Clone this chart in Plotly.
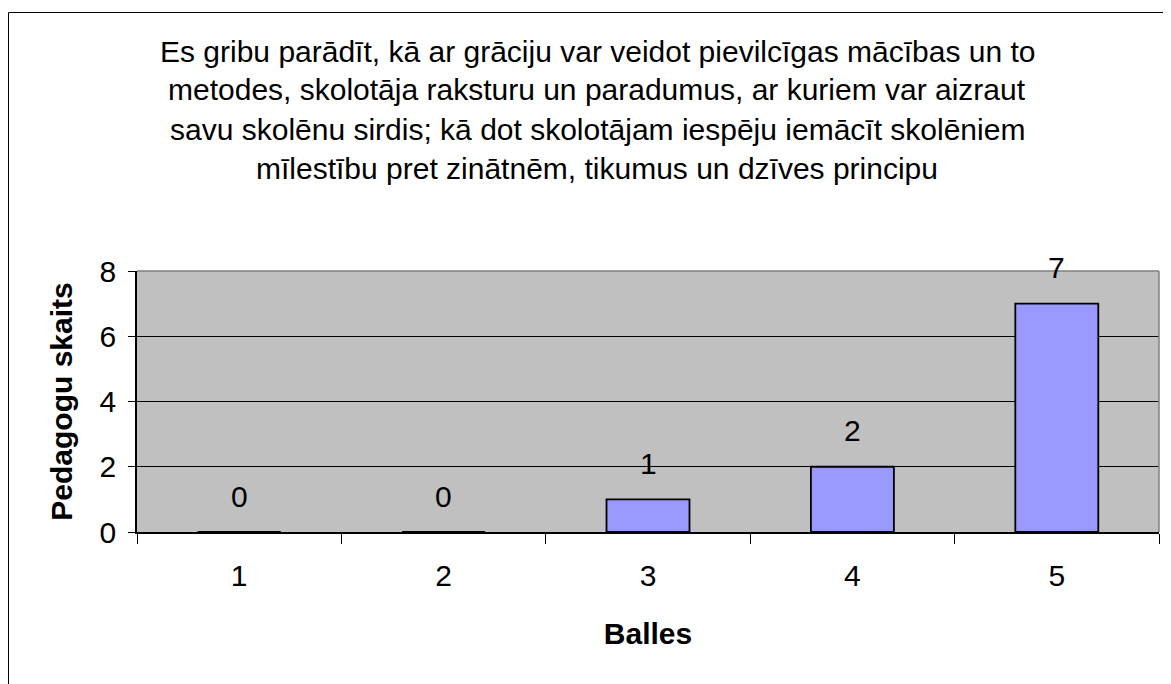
import plotly.graph_objects as go

# data
balles = ["1", "2", "3", "4", "5"]
skaits = [0, 0, 1, 2, 7]
title_lines = [
    "Es gribu parādīt, kā ar grāciju var veidot pievilcīgas mācības un to",
    "metodes, skolotāja raksturu un paradumus, ar kuriem var aizraut",
    "savu skolēnu sirdis; kā dot skolotājam iespēju iemācīt skolēniem",
    "mīlestību pret zinātnēm, tikumus un dzīves principu",
]
x_title = "Balles"
y_title = "Pedagogu skaits"
y_ticks = [0, 2, 4, 6, 8]

# page body has an 8px margin, so the figure is placed 8px in
OFF = 8
W, H = 1171 - OFF, 684 - OFF
L, R, T, B = 137 - OFF, 12, 271 - OFF, 152
pw, ph = W - L - R, H - T - B
FONT = "Liberation Sans, Arial, sans-serif"
FS = 30


def px_x(x):
    return (x - OFF - L) / pw


def px_y(y):
    return (H - B - (y - OFF)) / ph


fig = go.Figure(go.Bar(
    x=balles, y=skaits,
    marker=dict(color="#9999FF", line=dict(color="black", width=1.8)),
    hoverinfo="skip",
))

# value labels above the bars
for i, v in enumerate(skaits):
    fig.add_annotation(x=i, y=v, text=str(v), showarrow=False, yshift=36,
                       yanchor="middle", font=dict(size=FS, color="black"))

# title lines (Excel style, wide spacing)
for i, line in enumerate(title_lines):
    fig.add_annotation(xref="paper", yref="paper", x=px_x(597), y=px_y(51 + 39 * i),
                       text=line, showarrow=False, xanchor="center", yanchor="middle",
                       font=dict(size=FS, color="black"))

# chart outer border and plot-area frame
fig.add_shape(type="rect", xref="paper", yref="paper",
              x0=px_x(8.5), y0=px_y(12.5), x1=px_x(1171 + 20), y1=px_y(684 + 20),
              line=dict(color="black", width=1))
fig.add_shape(type="line", xref="paper", yref="paper", x0=0, y0=1, x1=1, y1=1,
              line=dict(color="#808080", width=1.5))
fig.add_shape(type="line", xref="paper", yref="paper", x0=1, y0=0, x1=1, y1=1,
              line=dict(color="#808080", width=1.5))

fig.update_layout(
    width=W, height=H,
    margin=dict(l=L, r=R, t=T, b=B, autoexpand=False),
    paper_bgcolor="white", plot_bgcolor="#C0C0C0",
    font=dict(family=FONT, size=FS, color="black"),
    bargap=0.594, showlegend=False,
    xaxis=dict(
        type="category", tickson="boundaries", ticks="outside", ticklen=10,
        tickcolor="black", showline=True, linecolor="black", linewidth=1.5,
        showgrid=False, zeroline=False, range=[-0.5, 4.5],
        ticklabelstandoff=16,
        title=dict(text="<b>" + x_title + "</b>", standoff=32, font=dict(size=FS)),
        tickfont=dict(size=FS),
    ),
    yaxis=dict(
        range=[0, 8], tickvals=y_ticks, ticks="outside", ticklen=7, tickcolor="black",
        showline=True, linecolor="black", linewidth=1.5,
        showgrid=True, gridcolor="black", gridwidth=1, zeroline=False,
        ticklabelstandoff=6,
        title=dict(text="<b>" + y_title + "</b>", standoff=18, font=dict(size=FS)),
        tickfont=dict(size=FS),
    ),
)

fig.write_html("out.html")
